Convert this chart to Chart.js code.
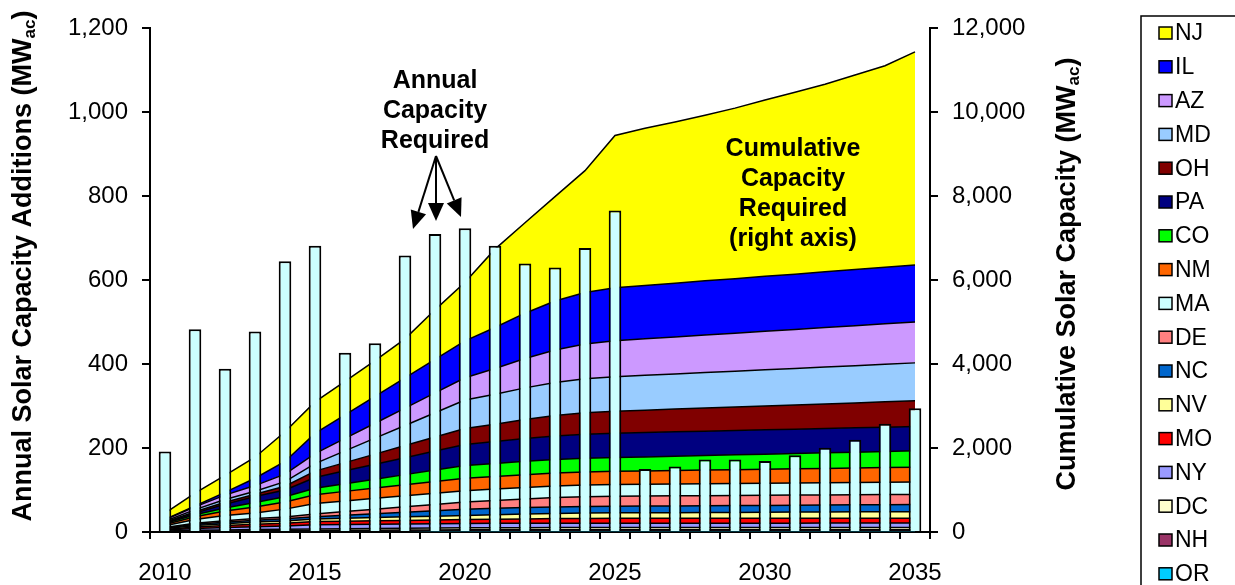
<!DOCTYPE html>
<html>
<head>
<meta charset="utf-8">
<script src="https://cdn.jsdelivr.net/npm/chart.js@4.4.1/dist/chart.umd.min.js"></script>
<style>
  html, body { margin: 0; padding: 0; background: #fff; }
  #wrap { width: 1235px; height: 585px; }
</style>
</head>
<body>
<div id="wrap"><canvas id="chart" width="1235" height="585"></canvas></div>
<script>
const years = [2010, 2011, 2012, 2013, 2014, 2015, 2016, 2017, 2018, 2019, 2020, 2021, 2022,
               2023, 2024, 2025, 2026, 2027, 2028, 2029, 2030, 2031, 2032, 2033, 2034, 2035];
const shownYears = [2010, 2015, 2020, 2025, 2030, 2035];

// annual additions (left axis)
const annualAdds = [192, 483, 389, 478, 645, 682, 427, 450, 659, 710, 724, 682, 640,
                    630, 677, 766, 150, 156, 173, 173, 169, 183, 201, 220, 258, 295];

// cumulative capacity by state (right axis), stack bottom first
const OR = [5, 8, 10, 12, 14, 16, 17, 19, 20, 22, 23, 24, 24, 25, 25, 25, 25, 25, 25, 25, 25, 25, 25, 25, 25, 25];
const NH = [7, 13, 15, 17, 19, 21, 23, 24, 26, 27, 29, 29, 30, 30, 30, 30, 30, 30, 30, 30, 30, 30, 30, 30, 30, 30];
const DC = [12, 20, 24, 28, 32, 36, 39, 42, 44, 47, 50, 50, 50, 50, 50, 50, 50, 50, 51, 51, 51, 51, 52, 52, 52, 52];
const NY = [22, 45, 60, 70, 80, 100, 101, 101, 102, 102, 103, 104, 104, 105, 105, 105, 105, 105, 105, 105, 105, 105, 105, 105, 105, 105];
const MO = [15, 32, 45, 55, 62, 75, 78, 82, 85, 89, 92, 98, 104, 109, 113, 115, 115, 115, 115, 115, 115, 116, 116, 116, 116, 116];
const NV = [18, 38, 45, 55, 58, 62, 69, 76, 84, 91, 98, 106, 115, 123, 128, 131, 134, 136, 139, 141, 144, 147, 149, 152, 154, 157];
const NC = [12, 26, 35, 45, 50, 55, 74, 93, 112, 131, 150, 152, 154, 155, 156, 157, 158, 160, 161, 163, 164, 165, 167, 168, 170, 171];
const DE = [15, 28, 35, 37, 40, 65, 86, 107, 128, 149, 170, 188, 206, 223, 234, 240, 240, 240, 240, 240, 240, 240, 240, 240, 240, 240];
const MA = [45, 90, 125, 135, 190, 250, 254, 258, 262, 266, 270, 273, 276, 278, 280, 281, 283, 284, 286, 287, 289, 291, 292, 294, 295, 297];
const NM = [30, 65, 105, 140, 170, 210, 227, 244, 261, 278, 295, 299, 304, 308, 310, 312, 316, 320, 324, 328, 332, 335, 339, 343, 347, 351];
const CO = [22, 45, 75, 110, 125, 150, 181, 212, 243, 274, 305, 311, 317, 322, 326, 328, 334, 341, 347, 353, 360, 366, 372, 378, 385, 391];
const PA = [15, 40, 85, 140, 160, 260, 308, 356, 404, 452, 500, 520, 542, 560, 573, 580, 580, 580, 580, 580, 580, 580, 580, 580, 580, 580];
const OH = [15, 32, 50, 55, 90, 150, 196, 242, 288, 334, 380, 416, 455, 489, 512, 525, 534, 542, 551, 559, 568, 576, 585, 593, 602, 610];
const MD = [22, 52, 65, 72, 110, 180, 280, 380, 480, 580, 680, 715, 753, 785, 807, 820, 829, 837, 846, 854, 863, 871, 880, 888, 897, 905];
const AZ = [38, 65, 105, 135, 180, 240, 298, 356, 414, 472, 530, 612, 701, 776, 828, 858, 870, 881, 893, 905, 917, 928, 940, 952, 963, 975];
const IL = [8, 20, 65, 175, 300, 480, 560, 640, 720, 800, 880, 976, 1079, 1167, 1229, 1263, 1272, 1281, 1291, 1300, 1309, 1318, 1327, 1337, 1346, 1355];
const NJ = [150, 310, 405, 500, 710, 750, 800, 850, 930, 1180, 1395, 1867, 2156, 2485, 2904, 3630, 3746, 3842, 3948, 4064, 4200, 4336, 4472, 4638, 4804, 5080];

const states = [
  ['OR', OR, '#00CCFF'], ['NH', NH, '#993366'], ['DC', DC, '#FFFFCC'], ['NY', NY, '#9999FF'],
  ['MO', MO, '#FF0000'], ['NV', NV, '#FFFF99'], ['NC', NC, '#0066CC'], ['DE', DE, '#FF8080'],
  ['MA', MA, '#CCFFFF'], ['NM', NM, '#FF6600'], ['CO', CO, '#00FF00'], ['PA', PA, '#000080'],
  ['OH', OH, '#800000'], ['MD', MD, '#99CCFF'], ['AZ', AZ, '#CC99FF'], ['IL', IL, '#0000FF'],
  ['NJ', NJ, '#FFFF00']
];

const FONT = '"Liberation Sans", Arial, sans-serif';

function drawSubTitle(ctx, a, sub, b, x, y) {
  ctx.save();
  ctx.translate(x, y);
  ctx.rotate(-Math.PI / 2);
  ctx.fillStyle = '#000';
  ctx.textBaseline = 'middle';
  ctx.textAlign = 'left';
  const big = 'bold 27px ' + FONT, small = 'bold 17px ' + FONT;
  ctx.font = big; const w1 = ctx.measureText(a).width, w3 = ctx.measureText(b).width;
  ctx.font = small; const w2 = ctx.measureText(sub).width;
  let sx = -(w1 + w2 + w3) / 2;
  ctx.font = big; ctx.fillText(a, sx, 0); sx += w1;
  ctx.font = small; ctx.fillText(sub, sx, 6); sx += w2;
  ctx.font = big; ctx.fillText(b, sx, 0);
  ctx.restore();
}

function arrow(ctx, x0, y0, x1, y1) {
  const ang = Math.atan2(y1 - y0, x1 - x0), len = 18, half = 8;
  const bx = x1 - len * Math.cos(ang), by = y1 - len * Math.sin(ang);
  ctx.beginPath();
  ctx.moveTo(x0, y0);
  ctx.lineTo(bx, by);
  ctx.stroke();
  ctx.beginPath();
  ctx.moveTo(x1, y1);
  ctx.lineTo(bx + half * Math.sin(ang), by - half * Math.cos(ang));
  ctx.lineTo(bx - half * Math.sin(ang), by + half * Math.cos(ang));
  ctx.closePath();
  ctx.fill();
}

const overlay = {
  id: 'overlay',
  afterDraw(chart) {
    const ctx = chart.ctx;
    ctx.save();
    drawSubTitle(ctx, 'Annual Solar Capacity Additions (MW', 'ac', ')', 24, 266);
    drawSubTitle(ctx, 'Cumulative Solar Capacity (MW', 'ac', ')', 1068, 274);

    // text notes
    ctx.fillStyle = '#000';
    ctx.textAlign = 'center';
    ctx.textBaseline = 'middle';
    ctx.font = 'bold 25px ' + FONT;
    ['Annual', 'Capacity', 'Required'].forEach((t, i) => ctx.fillText(t, 435, 81 + i * 30));
    ['Cumulative', 'Capacity', 'Required', '(right axis)'].forEach((t, i) => ctx.fillText(t, 793, 149 + i * 30));

    ctx.strokeStyle = '#000';
    ctx.lineWidth = 2;
    arrow(ctx, 436, 156, 413, 229);
    arrow(ctx, 436, 156, 436, 221);
    arrow(ctx, 436, 156, 461, 217);

    // legend
    ctx.lineWidth = 1.5;
    ctx.strokeRect(1141, 16, 120, 600);
    ctx.textAlign = 'left';
    ctx.font = '23px ' + FONT;
    states.slice().reverse().forEach((s, i) => {
      const y = 33 + i * 33.8;
      ctx.fillStyle = s[2];
      ctx.fillRect(1159, y - 6, 13, 12);
      ctx.strokeRect(1159, y - 6, 13, 12);
      ctx.fillStyle = '#000';
      ctx.fillText(s[0], 1175, y + 1);
    });
    ctx.restore();
  }
};

const datasets = [{
  type: 'bar',
  label: 'Annual',
  data: annualAdds,
  yAxisID: 'y',
  backgroundColor: '#CCFFFF',
  borderColor: '#000',
  borderWidth: 2,
  barPercentage: 0.42,
  categoryPercentage: 1,
  order: 0
}];
states.forEach((s, i) => {
  datasets.push({
    type: 'line',
    label: s[0],
    data: s[1],
    yAxisID: 'y1',
    backgroundColor: s[2],
    borderColor: '#000',
    borderWidth: 1.5,
    pointRadius: 0,
    tension: 0,
    fill: i === 0 ? 'origin' : '-1',
    order: 1
  });
});

new Chart(document.getElementById('chart'), {
  type: 'bar',
  data: { labels: years, datasets: datasets },
  options: {
    responsive: false,
    animation: false,
    devicePixelRatio: 1,
    layout: { padding: { top: 20, left: 0, right: 0, bottom: 0 } },
    plugins: { legend: { display: false }, tooltip: { enabled: false } },
    scales: {
      x: {
        offset: true,
        grid: { offset: true, drawOnChartArea: false, drawTicks: true, tickLength: 7, color: '#000', lineWidth: 2 },
        border: { color: '#000', width: 2 },
        ticks: {
          autoSkip: false, maxRotation: 0, color: '#000', padding: 20,
          font: { family: FONT, size: 24 },
          callback: function (v) {
            const yr = this.getLabelForValue(v);
            return shownYears.includes(yr) ? String(yr) : '';
          }
        },
        afterFit: s => { s.height = 53; }
      },
      y: {
        position: 'left', min: 0, max: 1200,
        grid: { drawOnChartArea: false, tickLength: 8, color: '#000', lineWidth: 2 },
        border: { color: '#000', width: 2 },
        ticks: { stepSize: 200, color: '#000', padding: 14, font: { family: FONT, size: 24 } },
        afterFit: s => { s.width = 150; }
      },
      y1: {
        position: 'right', min: 0, max: 12000, stacked: true,
        grid: { drawOnChartArea: false, tickLength: 8, color: '#000', lineWidth: 2 },
        border: { color: '#000', width: 2 },
        ticks: { stepSize: 2000, color: '#000', padding: 14, font: { family: FONT, size: 24 } },
        afterFit: s => { s.width = 305; }
      }
    }
  },
  plugins: [overlay]
});
</script>
</body>
</html>
